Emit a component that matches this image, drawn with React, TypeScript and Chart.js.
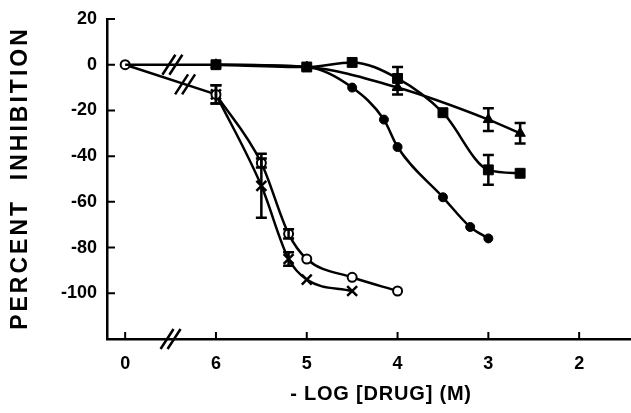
import React, { useEffect, useRef } from 'react';
import { Chart, registerables } from 'chart.js';

Chart.register(...registerables);

// Axis positions: 0 = control, then -log[drug] 6,5,4,3,2
const xTickValues = [0, 1, 2, 3, 4, 5];
const xTickLabels = ['0', '6', '5', '4', '3', '2'];
const yTickValues = [20, 0, -20, -40, -60, -80, -100];

// Control (no drug) response
const controlY = 0;

// x values in -log[drug] (M)
const squareX = [6, 5, 4.5, 4, 3.5, 3, 2.65];
const squareY = [0, -1, 1, -6, -21, -46, -47.5];
const squareErr = [0, 0, 0, 5, 0, 6.5, 0];

const triangleX = [6, 5, 4, 3, 2.65];
const triangleY = [0, -1, -10, -24, -30];
const triangleErr = [0, 0, 3, 5, 4.5];

const dotX = [6, 5, 4.5, 4.15, 4, 3.5, 3.2, 3];
const dotY = [0, -1, -10, -24, -36, -58, -71, -76];

const ringX = [6, 5.5, 5.2, 5, 4.5, 4];
const ringY = [-13, -43, -74, -85, -93, -99];
const ringErr = [4, 2, 2, 0, 0, 0];

const crossX = [6, 5.5, 5.2, 5, 4.5];
const crossY = [-13, -53, -85, -94, -99];
const crossErr = [4, 14, 3, 0, 0];

const FONT = "'Liberation Sans', Arial, Helvetica, sans-serif";
const INK = '#000';

const toAxis = (v: number) => (v === 0 ? 0 : 7 - v);

function makeSeries(
  label: string,
  xs: number[],
  ys: number[],
  style: string,
  radius: number,
  fill: string,
  pointBorder: number,
  errors?: number[]
) {
  return {
    label,
    data: xs.map((x, i) => ({ x: toAxis(x), y: ys[i] })),
    borderColor: INK,
    borderWidth: 2.5,
    pointStyle: style,
    pointRadius: radius,
    pointBackgroundColor: fill,
    pointBorderColor: INK,
    pointBorderWidth: pointBorder,
    cubicInterpolationMode: 'monotone',
    tension: 0.4,
    fill: false,
    errors,
  };
}

function makeConnector(label: string, toX: number, toY: number, controlRadius: number) {
  return {
    label,
    data: [
      { x: 0, y: controlY },
      { x: toAxis(toX), y: toY },
    ],
    borderColor: INK,
    borderWidth: 2.5,
    pointStyle: 'circle',
    pointRadius: [controlRadius, 0],
    pointBackgroundColor: '#fff',
    pointBorderColor: INK,
    pointBorderWidth: 2,
    tension: 0,
    fill: false,
  };
}

const errorBarPlugin = {
  id: 'errorBars',
  afterDatasetsDraw(chart: any) {
    const ctx = chart.ctx;
    const ys = chart.scales.y;
    chart.data.datasets.forEach((ds: any, di: number) => {
      const err = ds.errors as number[] | undefined;
      if (!err) return;
      const meta = chart.getDatasetMeta(di);
      meta.data.forEach((pt: any, i: number) => {
        const e = err[i];
        if (!e) return;
        const v = ds.data[i].y;
        const top = ys.getPixelForValue(v + e);
        const bot = ys.getPixelForValue(v - e);
        ctx.save();
        ctx.strokeStyle = INK;
        ctx.lineWidth = 2.5;
        ctx.beginPath();
        ctx.moveTo(pt.x, top);
        ctx.lineTo(pt.x, bot);
        ctx.moveTo(pt.x - 5.5, top);
        ctx.lineTo(pt.x + 5.5, top);
        ctx.moveTo(pt.x - 5.5, bot);
        ctx.lineTo(pt.x + 5.5, bot);
        ctx.stroke();
        ctx.restore();
      });
    });
  },
};

function drawSlashes(ctx: CanvasRenderingContext2D, cx: number, cy: number) {
  ctx.save();
  ctx.strokeStyle = INK;
  ctx.lineWidth = 2.5;
  ctx.beginPath();
  for (const off of [-3.5, 3.5]) {
    ctx.moveTo(cx + off - 6.5, cy + 10);
    ctx.lineTo(cx + off + 6.5, cy - 10);
  }
  ctx.stroke();
  ctx.restore();
}

const decorPlugin = {
  id: 'decor',
  afterDraw(chart: any) {
    const ctx = chart.ctx as CanvasRenderingContext2D;
    const xs = chart.scales.x;
    const ys = chart.scales.y;
    const area = chart.chartArea;
    // inward tick marks
    ctx.save();
    ctx.strokeStyle = INK;
    ctx.lineWidth = 2;
    ctx.beginPath();
    xTickValues.forEach((v) => {
      const px = xs.getPixelForValue(v);
      ctx.moveTo(px, area.bottom);
      ctx.lineTo(px, area.bottom - 7);
    });
    yTickValues.forEach((v) => {
      const py = ys.getPixelForValue(v);
      ctx.moveTo(area.left, py);
      ctx.lineTo(area.left + 8, py);
    });
    ctx.stroke();
    ctx.restore();

    // axis break on x axis
    drawSlashes(ctx, xs.getPixelForValue(0.5), area.bottom);
    // breaks on the two lines leaving the control point
    const breakOn = (di: number, frac: number) => {
      const meta = chart.getDatasetMeta(di);
      const a = meta.data[0];
      const b = meta.data[1];
      drawSlashes(ctx, a.x + (b.x - a.x) * frac, a.y + (b.y - a.y) * frac);
    };
    breakOn(5, 0.52);
    breakOn(6, 0.66);

    // axis titles
    ctx.save();
    ctx.fillStyle = INK;
    ctx.textAlign = 'center';
    ctx.textBaseline = 'middle';
    ctx.font = `bold 20px ${FONT}`;
    (ctx as any).letterSpacing = '0.8px';
    ctx.fillText('- LOG [DRUG] (M)', 381, 394);
    ctx.translate(21, 178);
    ctx.rotate(-Math.PI / 2);
    ctx.font = `bold 23px ${FONT}`;
    (ctx as any).letterSpacing = '3px';
    ctx.fillText('PERCENT  INHIBITION', 0, 0);
    ctx.restore();
  },
};

export default function App() {
  const ref = useRef<HTMLCanvasElement>(null);

  useEffect(() => {
    if (!ref.current) return;
    const chart = new Chart(ref.current, {
      type: 'line',
      data: {
        datasets: [
          makeSeries('squares', squareX, squareY, 'rect', 7, INK, 1, squareErr),
          makeSeries('triangles', triangleX, triangleY, 'triangle', 6, INK, 1, triangleErr),
          makeSeries('dots', dotX, dotY, 'circle', 4.5, INK, 1),
          makeSeries('rings', ringX, ringY, 'circle', 4.5, '#fff', 2, ringErr),
          makeSeries('crosses', crossX, crossY, 'crossRot', 7, INK, 2.5, crossErr),
          makeConnector('control-upper', squareX[0], squareY[0], 0),
          makeConnector('control-lower', ringX[0], ringY[0], 4.5),
        ] as any,
      },
      options: {
        animation: false,
        responsive: false,
        maintainAspectRatio: false,
        layout: { autoPadding: false, padding: { top: 19, right: 1, bottom: 0, left: 0 } },
        plugins: {
          legend: { display: false },
          tooltip: { enabled: false },
          title: { display: false },
        },
        scales: {
          x: {
            type: 'linear',
            min: -0.2,
            max: 5.56,
            afterFit: (s: any) => {
              s.height = 74;
              s.paddingLeft = 0;
              s.paddingRight = 0;
            },
            afterBuildTicks: (s: any) => {
              s.ticks = xTickValues.map((v) => ({ value: v }));
            },
            grid: { display: true, drawOnChartArea: false, drawTicks: false },
            border: { display: true, color: INK, width: 2.5 },
            ticks: {
              padding: 14,
              color: INK,
              font: { family: FONT, size: 18, weight: 'bold' },
              maxRotation: 0,
              autoSkip: false,
              callback: (v: any) => {
                const i = xTickValues.indexOf(Number(v));
                return i >= 0 ? xTickLabels[i] : '';
              },
            },
          },
          y: {
            type: 'linear',
            min: -120,
            max: 20,
            afterFit: (s: any) => {
              s.width = 107;
              s.paddingTop = 0;
              s.paddingBottom = 0;
            },
            afterBuildTicks: (s: any) => {
              s.ticks = yTickValues.map((v) => ({ value: v }));
            },
            grid: { display: true, drawOnChartArea: false, drawTicks: false },
            border: { display: true, color: INK, width: 2.5 },
            ticks: {
              padding: 10,
              color: INK,
              font: { family: FONT, size: 18, weight: 'bold' },
              autoSkip: false,
              callback: (v: any) => String(v),
            },
          },
        },
      } as any,
      plugins: [errorBarPlugin, decorPlugin],
    });
    return () => chart.destroy();
  }, []);

  return (
    <div style={{ position: 'fixed', left: 0, top: 0, width: 631, height: 413, background: '#fff' }}>
      <canvas ref={ref} width={631} height={413} style={{ display: 'block' }} />
    </div>
  );
}
